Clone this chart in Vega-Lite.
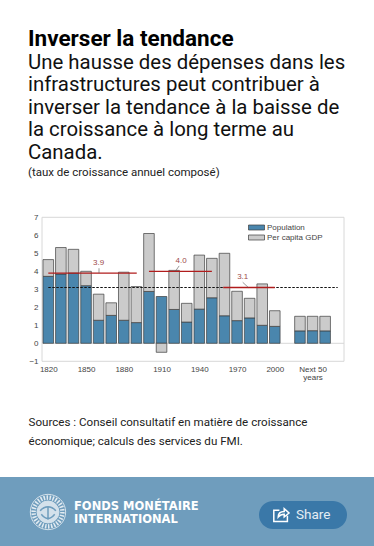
{
"$schema":"https://vega.github.io/schema/vega-lite/v6.json",
"padding":{"left":0,"right":0,"top":28,"bottom":0},
"background":"white",
"spacing":0,
"config":{"view":{"stroke":null},"concat":{"spacing":0},"font":"Roboto"},
"title":{"text":"Inverser la tendance","subtitle":["Une hausse des dépenses dans les","infrastructures peut contribuer à","inverser la tendance à la baisse de","la croissance à long terme au","Canada."],"anchor":"start","frame":"group","dx":28,"font":"Roboto","fontSize":22.5,"fontWeight":700,"color":"#000000","subtitleFont":"Roboto","subtitleFontSize":20.4,"subtitleFontWeight":400,"subtitleColor":"#111111","subtitleLineHeight":22.5,"subtitlePadding":2,"offset":4},
"datasets":{
"bars":[
{"year":1820,"series":"Population","value":3.72},{"year":1820,"series":"Per capita GDP","value":0.93},
{"year":1830,"series":"Population","value":3.85},{"year":1830,"series":"Per capita GDP","value":1.47},
{"year":1840,"series":"Population","value":3.9},{"year":1840,"series":"Per capita GDP","value":1.32},
{"year":1850,"series":"Population","value":3.2},{"year":1850,"series":"Per capita GDP","value":0.8},
{"year":1860,"series":"Population","value":1.28},{"year":1860,"series":"Per capita GDP","value":1.45},
{"year":1870,"series":"Population","value":1.55},{"year":1870,"series":"Per capita GDP","value":0.7},
{"year":1880,"series":"Population","value":1.28},{"year":1880,"series":"Per capita GDP","value":2.67},
{"year":1890,"series":"Population","value":1.15},{"year":1890,"series":"Per capita GDP","value":2.0},
{"year":1900,"series":"Population","value":2.88},{"year":1900,"series":"Per capita GDP","value":3.22},
{"year":1910,"series":"Population","value":2.6},{"year":1910,"series":"Per capita GDP","value":-0.5},
{"year":1920,"series":"Population","value":1.88},{"year":1920,"series":"Per capita GDP","value":2.17},
{"year":1930,"series":"Population","value":1.18},{"year":1930,"series":"Per capita GDP","value":1.04},
{"year":1940,"series":"Population","value":1.9},{"year":1940,"series":"Per capita GDP","value":3.0},
{"year":1950,"series":"Population","value":2.53},{"year":1950,"series":"Per capita GDP","value":2.19},
{"year":1960,"series":"Population","value":1.53},{"year":1960,"series":"Per capita GDP","value":3.47},
{"year":1970,"series":"Population","value":1.26},{"year":1970,"series":"Per capita GDP","value":1.63},
{"year":1980,"series":"Population","value":1.41},{"year":1980,"series":"Per capita GDP","value":1.09},
{"year":1990,"series":"Population","value":1.0},{"year":1990,"series":"Per capita GDP","value":2.3},
{"year":2000,"series":"Population","value":0.94},{"year":2000,"series":"Per capita GDP","value":0.87},
{"year":2020,"series":"Population","value":0.69},{"year":2020,"series":"Per capita GDP","value":0.81},
{"year":2030,"series":"Population","value":0.7},{"year":2030,"series":"Per capita GDP","value":0.8},
{"year":2040,"series":"Population","value":0.69},{"year":2040,"series":"Per capita GDP","value":0.81}
],
"periods":[
{"from":1820,"to":1890.3,"avg":3.9},
{"from":1900,"to":1950,"avg":4.0},
{"from":1959,"to":2000,"avg":3.1}
],
"notes":[
{"x":1860,"y":4.44,"x0":1860.3,"x1":1860.3,"y0":4.17,"y1":3.9,"text":"3.9"},
{"x":1925.5,"y":4.6,"x0":1924,"x1":1921,"y0":4.3,"y1":4.0,"text":"4.0"},
{"x":1974.5,"y":3.67,"x0":1974.5,"x1":1979,"y0":3.39,"y1":3.1,"text":"3.1"}
]
},
"vconcat":[
{
"width":374,"height":291,
"title":{"text":"(taux de croissance annuel composé)","anchor":"start","frame":"group","dx":28,"font":"Roboto","fontSize":11.5,"fontWeight":400,"color":"#222222","offset":7.5},
"layer":[
{"data":{"values":[{"x0":1815,"x1":2055,"y0":-1,"y1":7}]},
 "mark":{"type":"rect","fill":null,"stroke":"#d8d8d8","strokeWidth":1},
 "encoding":{"x":{"field":"x0","type":"quantitative","scale":{"domain":[1815,2055],"range":[42,344],"nice":false,"zero":false,"padding":0},
   "axis":{"orient":"bottom","offset":-115.7,"values":[1820,1850,1880,1910,1940,1970,2000,2030],"tickCount":8,"format":"d","labelExpr":"datum.value==2030?['Next 50','years']:datum.label","domain":false,"ticks":false,"grid":false,"labelFont":"Liberation Sans","labelFontSize":8,"labelColor":"#444444","labelPadding":4,"labelOverlap":false,"labelLineHeight":8,
   "title":["Sources : Conseil consultatif en matière de croissance","économique; calculs des services du FMI."],"titleFont":"Roboto","titleFontSize":11.6,"titleFontWeight":400,"titleColor":"#222222","titleLineHeight":19,"titleX":28,"titleY":55,"titleAlign":"left","titleBaseline":"top"}},
  "x2":{"field":"x1"},
  "y":{"field":"y0","type":"quantitative","scale":{"domain":[-1,7],"range":[175.3,31.3],"nice":false,"zero":false},
   "axis":{"orient":"left","offset":-42,"values":[-1,0,1,2,3,4,5,6,7],"tickCount":9,"domain":false,"ticks":false,"grid":false,"title":null,"labelFont":"Liberation Sans","labelFontSize":8,"labelColor":"#444444","labelPadding":4,"labelOverlap":false}},
  "y2":{"field":"y1"}}},
{"data":{"values":[{"x0":1815,"x1":2055,"y":0}]},
 "mark":{"type":"rule","stroke":"#d8d8d8","strokeWidth":1},
 "encoding":{"x":{"field":"x0","type":"quantitative"},"x2":{"field":"x1"},"y":{"field":"y","type":"quantitative"}}},
{"data":{"name":"bars"},
 "mark":{"type":"bar","size":10.6,"stroke":"#3d3d3d","strokeWidth":0.7},
 "encoding":{"x":{"field":"year","type":"quantitative"},
  "y":{"field":"value","type":"quantitative","stack":"zero"},
  "color":{"field":"series","type":"nominal","scale":{"domain":["Population","Per capita GDP"],"range":["#4a86ad","#cbcbcb"]},
   "legend":{"orient":"none","legendX":251,"legendY":36,"title":null,"symbolType":"M-1.6,-0.5H1.6V0.5H-1.6Z","symbolSize":100,"symbolStrokeColor":"#3d3d3d","symbolStrokeWidth":0.7,"labelFont":"Liberation Sans","labelFontSize":8,"labelColor":"#444444","labelOffset":5,"rowPadding":0,"symbolOpacity":1}}}},
{"data":{"values":[{"from":1820,"to":2050,"avg":3.1}]},
 "mark":{"type":"rule","stroke":"#111111","strokeWidth":1.2,"strokeDash":[2.5,1.5]},
 "encoding":{"x":{"field":"from","type":"quantitative"},"x2":{"field":"to"},"y":{"field":"avg","type":"quantitative"}}},
{"data":{"name":"periods"},
 "mark":{"type":"rule","stroke":"#b01c1c","strokeWidth":1.3},
 "encoding":{"x":{"field":"from","type":"quantitative"},"x2":{"field":"to"},"y":{"field":"avg","type":"quantitative"}}},
{"data":{"name":"notes"},
 "mark":{"type":"rule","stroke":"#555555","strokeWidth":0.6},
 "encoding":{"x":{"field":"x0","type":"quantitative"},"x2":{"field":"x1"},"y":{"field":"y0","type":"quantitative"},"y2":{"field":"y1"}}},
{"data":{"name":"notes"},
 "mark":{"type":"text","font":"Liberation Sans","fontSize":8,"color":"#9c4a4a"},
 "encoding":{"x":{"field":"x","type":"quantitative"},"y":{"field":"y","type":"quantitative"},"text":{"field":"text"}}}
]
},
{
"width":374,"height":69,
"view":{"fill":"#6f9dbd","stroke":null},
"layer":[
{"data":{"values":[{"part":"logo"}]},"mark":{"type":"point","shape":"circle","size":1250,"filled":false,"stroke":"#ffffff","strokeWidth":1},
 "encoding":{"x":{"datum":48,"type":"quantitative","axis":null,"scale":{"domain":[0,374],"range":[0,374],"nice":false,"zero":false}},"y":{"datum":35,"type":"quantitative","axis":null,"scale":{"domain":[0,69],"range":[0,69],"nice":false,"zero":false}}}},
{"data":{"values":[{"part":"logo"}]},"mark":{"type":"point","shape":"circle","size":830,"filled":false,"stroke":"#ffffff","strokeWidth":4.5,"strokeDash":[1.5,1.5],"opacity":0.8},
 "encoding":{"x":{"datum":48,"type":"quantitative"},"y":{"datum":35,"type":"quantitative"}}},
{"data":{"values":[{"part":"logo"}]},"mark":{"type":"point","shape":"circle","size":480,"filled":true,"fill":"#ffffff","opacity":0.7,"stroke":"#ffffff","strokeWidth":1},
 "encoding":{"x":{"datum":48,"type":"quantitative"},"y":{"datum":35,"type":"quantitative"}}},
{"data":{"values":[{"part":"logo"}]},"mark":{"type":"point","shape":"M-0.7,-0.1C-0.3,-0.6 0.3,-0.6 0.7,-0.1M-0.6,0.2C-0.2,0.7 0.2,0.7 0.6,0.2M0,-0.4V0.7","size":500,"filled":false,"opacity":1,"stroke":"#6f9dbd","strokeWidth":1.5},
 "encoding":{"x":{"datum":48,"type":"quantitative"},"y":{"datum":35,"type":"quantitative"}}},
{"data":{"values":[{"label":"FONDS MONÉTAIRE"}]},
 "mark":{"type":"text","align":"left","baseline":"middle","font":"DejaVu Sans","fontWeight":700,"fontSize":11.5,"color":"#ffffff"},
 "encoding":{"x":{"datum":74,"type":"quantitative"},"y":{"datum":30,"type":"quantitative"},"text":{"field":"label"}}},
{"data":{"values":[{"label":"INTERNATIONAL"}]},
 "mark":{"type":"text","align":"left","baseline":"middle","font":"DejaVu Sans","fontWeight":700,"fontSize":11.5,"color":"#ffffff"},
 "encoding":{"x":{"datum":74,"type":"quantitative"},"y":{"datum":43,"type":"quantitative"},"text":{"field":"label"}}},
{"data":{"values":[{"part":"button"}]},"mark":{"type":"point","filled":true,"fill":"#3a78a8","opacity":1,"size":7744,"shape":"M-0.682,-0.318H0.682A0.318,0.318 0 0 1 0.682,0.318H-0.682A0.318,0.318 0 0 1 -0.682,-0.318Z"},
 "encoding":{"x":{"datum":303,"type":"quantitative"},"y":{"datum":38,"type":"quantitative"}}},
{"data":{"values":[{"part":"icon"}]},"mark":{"type":"point","filled":false,"stroke":"#ffffff","strokeWidth":1.5,"opacity":1,"size":256,"shape":"M-0.2,-0.6H-0.9V0.8H0.8V0.1M-0.35,0.25C-0.35,-0.25 0,-0.45 0.4,-0.45V-0.8L1,-0.25L0.4,0.25V-0.1C0.1,-0.1 -0.15,0 -0.35,0.25Z"},
 "encoding":{"x":{"datum":281,"type":"quantitative"},"y":{"datum":38,"type":"quantitative"}}},
{"data":{"values":[{"label":"Share"}]},
 "mark":{"type":"text","align":"left","baseline":"middle","font":"Roboto","fontSize":13.5,"color":"#e4edf4"},
 "encoding":{"x":{"datum":296,"type":"quantitative"},"y":{"datum":38,"type":"quantitative"},"text":{"field":"label"}}}
]
}
]
}
